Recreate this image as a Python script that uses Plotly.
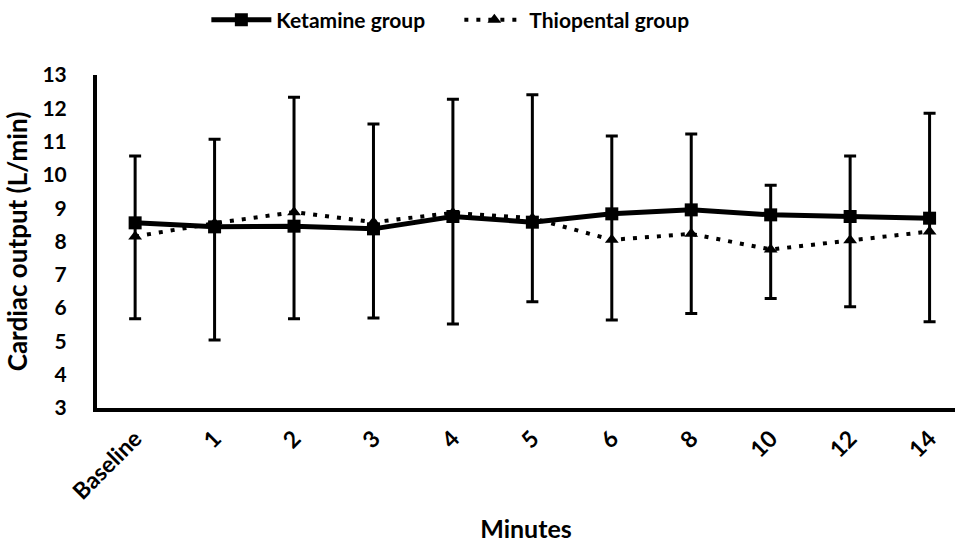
import plotly.graph_objects as go

categories = ["Baseline", "1", "2", "3", "4", "5", "6", "8", "10", "12", "14"]
ketamine = [8.56, 8.44, 8.46, 8.38, 8.75, 8.58, 8.83, 8.95, 8.80, 8.75, 8.70]
thiopental = [8.15, 8.55, 8.88, 8.58, 8.86, 8.70, 8.05, 8.23, 7.76, 8.04, 8.30]
bar_upper = [10.57, 11.07, 12.33, 11.53, 12.27, 12.41, 11.17, 11.23, 9.69, 10.57, 11.85]
bar_lower = [5.68, 5.04, 5.68, 5.70, 5.52, 6.19, 5.64, 5.84, 6.29, 6.04, 5.59]
y_ticks = list(range(3, 14))

err_plus = [u - k for u, k in zip(bar_upper, ketamine)]
err_minus = [k - l for k, l in zip(ketamine, bar_lower)]

FONT = "Lato"

fig = go.Figure()
fig.add_trace(go.Scatter(
    x=categories, y=thiopental, name="Thiopental group", mode="lines+markers",
    line=dict(color="black", width=4, dash="4px,8px"),
    marker=dict(symbol="triangle-up", size=12, color="black"),
    legendrank=2,
))
fig.add_trace(go.Scatter(
    x=categories, y=ketamine, name="Ketamine group", mode="lines+markers",
    line=dict(color="black", width=5),
    marker=dict(symbol="square", size=13, color="black"),
    error_y=dict(type="data", symmetric=False, array=err_plus, arrayminus=err_minus,
                 color="black", thickness=3, width=6),
    legendrank=1,
))

fig.update_layout(
    width=955, height=543,
    margin=dict(l=97, r=0, t=75, b=135, autoexpand=False),
    plot_bgcolor="white", paper_bgcolor="white",
    font=dict(family=FONT, color="black"),
    showlegend=True,
    legend=dict(orientation="h", xref="container", yref="container",
                x=0.481, xanchor="center", y=0.963, yanchor="middle",
                font=dict(size=21, family=FONT, weight="bold"),
                itemwidth=60, tracegroupgap=0,
                entrywidth=178, entrywidthmode="pixels"),
    xaxis=dict(type="category", range=[-0.48, 10.32], showline=True, linecolor="black",
               linewidth=4, showgrid=False, zeroline=False, ticks="", automargin=False,
               tickangle=-45, tickfont=dict(size=23, family=FONT, weight="bold"),
               ticklabelstandoff=4,
               title=dict(text="Minutes", font=dict(size=25, family=FONT, weight="bold"),
                          standoff=20)),
    yaxis=dict(range=[3, 13], tickvals=y_ticks, showline=True, linecolor="black",
               linewidth=4, showgrid=False, zeroline=False, ticks="", automargin=False,
               tickfont=dict(size=21, family=FONT, weight="bold"),
               ticklabelstandoff=22,
               title=dict(text="Cardiac output (L/min)",
                          font=dict(size=26, family=FONT, weight="bold"), standoff=8)),
)

fig.write_html("out.html", config={"displayModeBar": False},
               post_script="document.body.style.margin='0';document.body.style.overflow='hidden';")
